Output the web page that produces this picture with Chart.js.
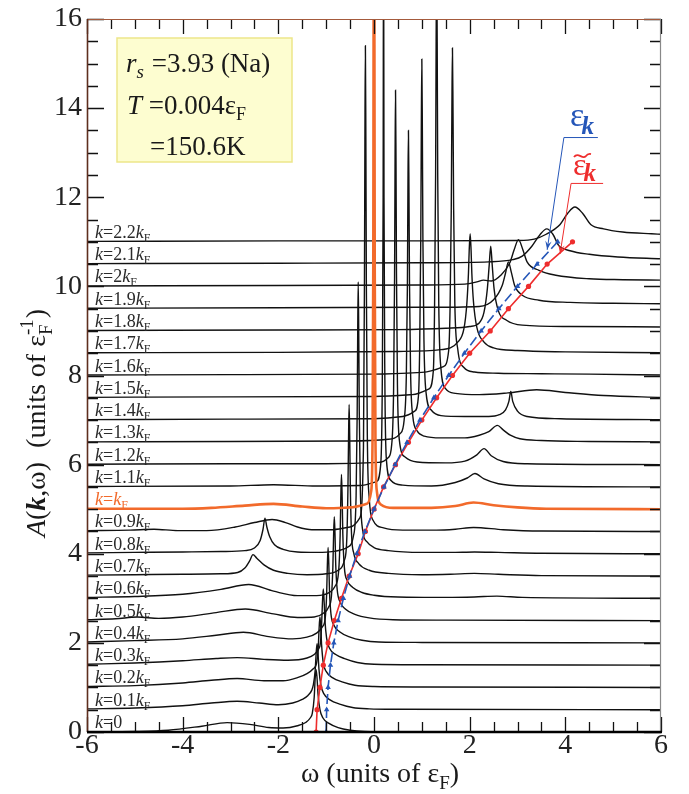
<!DOCTYPE html>
<html>
<head>
<meta charset="utf-8">
<script src="https://cdn.jsdelivr.net/npm/chart.js@4.4.1/dist/chart.umd.min.js"></script>
<style>
  html, body { margin: 0; padding: 0; background: #ffffff; }
  canvas { display: block; }
</style>
</head>
<body>
<canvas id="c" width="689" height="794"></canvas>
<script>
// Momentum values k/kF, one spectrum per value, stacked bottom to top
const kValues = ['0', '0.1', '0.2', '0.3', '0.4', '0.5', '0.6', '0.7', '0.8', '0.9', '1',
                 '1.1', '1.2', '1.3', '1.4', '1.5', '1.6', '1.7', '1.8', '1.9', '2', '2.1', '2.2'];
const waterfallStep = 0.5;           // vertical shift between successive spectra
const fermiIndex = 10;               // k = kF

// Spectral functions A(k,w): [w, A] pairs (w and A in units of eF and 1/eF)
const A_k00 = [[-6,0],[-5,0.01],[-4.3,0.04],[-3.6,0.13],[-3.07,0.21],[-2.6,0.17],[-2.2,0.1],[-1.9,0.09],[-1.6,0.14],[-1.42,0.22],[-1.33,0.32],[-1.29,0.42],[-1.25,0.78],[-1.23,1.2],[-1.21,1.4],[-1.19,1.2],[-1.17,0.85],[-1.13,0.5],[-1.07,0.32],[-0.95,0.2],[-0.75,0.1],[-0.5,0.04],[-0.2,0.01],[0.5,0],[6,0]];
const A_k01 = [[-6,0.02],[-5,0.04],[-4,0.09],[-3.4,0.15],[-2.86,0.19],[-2.4,0.15],[-2,0.11],[-1.7,0.15],[-1.5,0.23],[-1.38,0.32],[-1.3,0.44],[-1.27,0.55],[-1.23,0.88],[-1.21,1.25],[-1.19,1.48],[-1.17,1.25],[-1.15,0.9],[-1.11,0.55],[-1.05,0.36],[-0.92,0.22],[-0.7,0.12],[-0.45,0.05],[-0.1,0.02],[0.5,0.01],[6,0]];
const A_k02 = [[-6,0.02],[-5,0.04],[-4,0.1],[-3.4,0.16],[-2.86,0.2],[-2.3,0.15],[-1.9,0.15],[-1.6,0.22],[-1.4,0.31],[-1.27,0.42],[-1.2,0.55],[-1.165,0.9],[-1.148,1.32],[-1.13,1.58],[-1.112,1.32],[-1.095,0.95],[-1.06,0.55],[-1,0.36],[-0.87,0.22],[-0.65,0.12],[-0.4,0.05],[0,0.02],[1,0.01],[6,0]];
const A_k03 = [[-6,0.02],[-5,0.05],[-4,0.1],[-3.3,0.15],[-2.86,0.17],[-2.3,0.13],[-1.8,0.11],[-1.4,0.16],[-1.25,0.24],[-1.16,0.36],[-1.12,0.5],[-1.095,0.92],[-1.078,1.4],[-1.06,1.71],[-1.042,1.42],[-1.025,1.0],[-0.99,0.6],[-0.93,0.38],[-0.8,0.24],[-0.6,0.14],[-0.35,0.06],[0,0.02],[1,0.01],[6,0]];
const A_k04 = [[-6,0.02],[-5,0.05],[-4,0.09],[-3.3,0.17],[-2.73,0.24],[-2.2,0.14],[-1.7,0.09],[-1.4,0.13],[-1.2,0.22],[-1.08,0.36],[-1.02,0.55],[-0.99,1.1],[-0.975,1.75],[-0.96,2.14],[-0.945,1.78],[-0.93,1.15],[-0.9,0.65],[-0.84,0.4],[-0.72,0.25],[-0.5,0.13],[-0.25,0.06],[0.1,0.02],[1,0.01],[6,0]];
const A_k05 = [[-6,0.02],[-5.4,0.04],[-4.95,0.08],[-4.5,0.05],[-4,0.08],[-3.3,0.18],[-2.69,0.26],[-2.1,0.15],[-1.6,0.07],[-1.25,0.08],[-1.05,0.17],[-0.95,0.3],[-0.89,0.55],[-0.86,1.2],[-0.845,1.9],[-0.83,2.33],[-0.815,1.93],[-0.8,1.25],[-0.77,0.7],[-0.71,0.42],[-0.6,0.26],[-0.4,0.14],[-0.1,0.06],[0.4,0.02],[1.5,0.01],[6,0]];
const A_k06 = [[-6,0.02],[-5,0.04],[-4,0.09],[-3.2,0.2],[-2.62,0.31],[-2.1,0.16],[-1.6,0.06],[-1.2,0.06],[-0.95,0.12],[-0.82,0.26],[-0.74,0.6],[-0.708,1.4],[-0.694,2.25],[-0.68,2.78],[-0.666,2.28],[-0.652,1.45],[-0.62,0.7],[-0.56,0.4],[-0.45,0.25],[-0.25,0.13],[0,0.07],[0.5,0.03],[1.5,0.02],[2.1,0.03],[2.57,0.05],[3.1,0.02],[6,0]];
const A_k07 = [[-6,0.02],[-5,0.03],[-4,0.04],[-3.2,0.05],[-2.85,0.08],[-2.7,0.18],[-2.6,0.34],[-2.53,0.48],[-2.45,0.4],[-2.3,0.25],[-2.1,0.13],[-1.8,0.06],[-1.4,0.03],[-1,0.05],[-0.75,0.13],[-0.62,0.35],[-0.57,0.8],[-0.545,1.95],[-0.532,3.1],[-0.52,3.85],[-0.508,3.15],[-0.495,2.0],[-0.47,0.95],[-0.42,0.5],[-0.32,0.28],[-0.1,0.13],[0.3,0.06],[1,0.03],[1.6,0.04],[2.1,0.06],[2.6,0.04],[3.5,0.01],[6,0]];
const A_k08 = [[-6,0.02],[-5,0.03],[-4,0.04],[-3.2,0.05],[-2.7,0.07],[-2.5,0.13],[-2.38,0.3],[-2.32,0.55],[-2.28,0.8],[-2.24,0.6],[-2.18,0.38],[-2.08,0.2],[-1.9,0.1],[-1.6,0.04],[-1.2,0.03],[-0.8,0.06],[-0.55,0.15],[-0.43,0.4],[-0.374,1.3],[-0.352,3.1],[-0.341,4.9],[-0.33,6.1],[-0.319,4.95],[-0.308,3.2],[-0.286,1.45],[-0.24,0.55],[-0.15,0.27],[0,0.14],[0.3,0.07],[1,0.03],[1.6,0.03],[2.1,0.04],[2.6,0.03],[3.5,0.01],[6,0]];
const A_k09 = [[-6,0.02],[-5.1,0.03],[-4.6,0.05],[-4.1,0.02],[-3.5,0.02],[-2.9,0.1],[-2.5,0.2],[-2.13,0.27],[-1.85,0.2],[-1.6,0.1],[-1.3,0.04],[-0.9,0.04],[-0.5,0.1],[-0.3,0.3],[-0.22,1.9],[-0.2,5.5],[-0.19,8.8],[-0.18,10.9],[-0.17,8.8],[-0.16,5.6],[-0.14,2.2],[-0.1,0.75],[-0.02,0.25],[0.2,0.08],[0.6,0.03],[1.3,0.03],[1.7,0.05],[2.08,0.09],[2.7,0.04],[3.5,0.01],[6,0]];
const A_k10 = [[-6,0.01],[-4,0.01],[-3.4,0.03],[-2.7,0.08],[-2.1,0.12],[-1.5,0.06],[-1,0.02],[-0.5,0.04],[-0.15,0.12],[-0.06,0.4],[-0.03,1.6],[-0.015,5.5],[0,16],[0.015,5.5],[0.03,1.6],[0.06,0.4],[0.15,0.1],[0.4,0.03],[1.2,0.03],[1.7,0.07],[2.08,0.15],[2.5,0.09],[3,0.04],[3.6,0.01],[6,0]];
const A_k11 = [[-6,0.01],[-3,0.02],[-2.1,0.05],[-1.2,0.02],[-0.3,0.03],[0.05,0.12],[0.14,0.5],[0.173,2.3],[0.191,6.5],[0.2,13],[0.209,6.5],[0.227,2.4],[0.26,0.6],[0.35,0.15],[0.6,0.04],[1.2,0.02],[1.7,0.1],[1.95,0.2],[2.11,0.3],[2.3,0.18],[2.6,0.07],[3.2,0.02],[6,0]];
const A_k12 = [[-6,0.01],[-3,0.02],[-1,0.02],[0.1,0.05],[0.3,0.16],[0.37,0.45],[0.41,1.7],[0.43,4.2],[0.44,6.7],[0.45,8.4],[0.46,6.8],[0.47,4.3],[0.49,1.8],[0.53,0.55],[0.65,0.17],[0.9,0.06],[1.5,0.04],[1.9,0.08],[2.15,0.22],[2.3,0.36],[2.45,0.2],[2.7,0.07],[3.2,0.02],[6,0]];
const A_k13 = [[-6,0.01],[-3,0.02],[-0.5,0.03],[0.3,0.07],[0.55,0.2],[0.63,0.5],[0.676,1.5],[0.698,3.5],[0.709,5.6],[0.72,7.0],[0.731,5.6],[0.742,3.6],[0.764,1.6],[0.81,0.6],[0.9,0.26],[1.05,0.14],[1.4,0.1],[1.9,0.1],[2.2,0.16],[2.4,0.24],[2.58,0.38],[2.7,0.28],[2.85,0.16],[3.05,0.08],[3.5,0.04],[4.5,0.02],[6,0.01]];
const A_k14 = [[-6,0.01],[-3,0.02],[0,0.03],[0.6,0.08],[0.85,0.2],[0.93,0.55],[0.956,1.7],[0.978,4.1],[0.989,6.5],[1.0,8.1],[1.011,6.5],[1.022,4.1],[1.044,1.8],[1.09,0.6],[1.2,0.22],[1.4,0.1],[1.9,0.08],[2.4,0.08],[2.62,0.12],[2.75,0.23],[2.82,0.42],[2.86,0.64],[2.9,0.42],[3,0.2],[3.2,0.08],[3.9,0.03],[6,0.01]];
const A_k15 = [[-6,0.01],[-3,0.02],[0,0.03],[0.8,0.07],[1.15,0.2],[1.24,0.6],[1.266,2.0],[1.288,5.0],[1.299,8.0],[1.31,10],[1.321,8.0],[1.332,5.0],[1.354,2.1],[1.4,0.65],[1.5,0.2],[1.7,0.1],[2.2,0.07],[2.8,0.11],[3.4,0.18],[4,0.12],[4.8,0.05],[6,0.01]];
const A_k16 = [[-6,0.01],[-3,0.02],[0,0.03],[1,0.07],[1.45,0.2],[1.56,0.55],[1.59,1.5],[1.615,3.7],[1.628,5.9],[1.64,7.35],[1.652,5.9],[1.665,3.75],[1.69,1.6],[1.75,0.6],[1.88,0.18],[2.1,0.08],[2.6,0.05],[3.5,0.04],[4.5,0.03],[6,0.01]];
const A_k17 = [[-6,0.01],[-2,0.02],[0.5,0.04],[1.4,0.08],[1.75,0.25],[1.88,0.55],[1.94,1.1],[1.975,1.8],[1.99,2.3],[2.01,2.68],[2.03,2.3],[2.045,1.8],[2.08,1.15],[2.15,0.58],[2.3,0.25],[2.5,0.12],[3,0.06],[4,0.03],[6,0.01]];
const A_k18 = [[-6,0.01],[-2,0.02],[0.5,0.03],[1.5,0.06],[2,0.1],[2.2,0.18],[2.3,0.42],[2.37,0.95],[2.41,1.5],[2.44,1.9],[2.47,1.5],[2.51,0.95],[2.6,0.45],[2.77,0.24],[3.1,0.13],[4.1,0.1],[6,0.09]];
const A_k19 = [[-6,0.01],[-2,0.02],[1,0.03],[2.2,0.05],[2.5,0.2],[2.68,0.52],[2.75,0.8],[2.81,1.05],[2.87,0.82],[2.94,0.52],[3.1,0.3],[3.45,0.19],[4.1,0.14],[5,0.12],[6,0.11]];
const A_k20 = [[-6,0.01],[-2,0.02],[1,0.03],[1.9,0.05],[2.15,0.1],[2.29,0.14],[2.45,0.12],[2.65,0.25],[2.84,0.53],[2.93,0.82],[3.02,1.05],[3.11,0.83],[3.2,0.55],[3.45,0.36],[3.8,0.25],[4.5,0.17],[5.2,0.15],[6,0.14]];
const A_k21 = [[-6,0.01],[-2,0.02],[1,0.03],[2.4,0.05],[2.9,0.1],[3.1,0.18],[3.3,0.4],[3.47,0.66],[3.61,0.79],[3.74,0.67],[3.86,0.42],[4.1,0.3],[4.5,0.22],[5.1,0.16],[6,0.12]];
const A_k22 = [[-6,0.01],[-2,0.02],[1,0.02],[3,0.03],[3.35,0.06],[3.6,0.17],[3.89,0.39],[4.05,0.64],[4.2,0.78],[4.36,0.64],[4.53,0.39],[4.8,0.29],[5.2,0.22],[5.8,0.18],[6,0.17]];

// Bare dispersion e_k = k^2 - 1 and quasiparticle energies (units of eF)
const epsBare    = [-1, -0.99, -0.96, -0.91, -0.84, -0.75, -0.64, -0.51, -0.36, -0.19, 0, 0.21, 0.44, 0.69, 0.96, 1.25, 1.56, 1.89, 2.24, 2.61, 3.0, 3.41, 3.84];
const epsRenorm  = [-1.21, -1.19, -1.13, -1.06, -0.96, -0.83, -0.68, -0.52, -0.33, -0.18, 0, 0.2, 0.45, 0.72, 1.0, 1.31, 1.64, 2.0, 2.43, 2.81, 3.23, 3.62, 4.15];

// Axis ticks
const xTickValues = [-6, -4, -2, 0, 2, 4, 6];
const yTickValues = [0, 2, 4, 6, 8, 10, 12, 14, 16];
const minorStep = 0.5;

const spectra = [A_k00, A_k01, A_k02, A_k03, A_k04, A_k05, A_k06, A_k07, A_k08, A_k09, A_k10,
                 A_k11, A_k12, A_k13, A_k14, A_k15, A_k16, A_k17, A_k18, A_k19, A_k20, A_k21, A_k22];

const SERIF = '"Liberation Serif", "DejaVu Serif", serif';
const ORANGE = '#f26a2b';
const RED = '#ee2d2d';
const BLUE = '#2556b8';

const datasets = spectra.map((pts, i) => ({
  data: pts.map(p => ({ x: p[0], y: p[1] + i * waterfallStep })),
  borderColor: i === fermiIndex ? ORANGE : '#111111',
  borderWidth: i === fermiIndex ? 2.6 : 1.4,
  pointRadius: 0,
  cubicInterpolationMode: 'monotone',
  fill: false,
  order: i === fermiIndex ? 2 : 3
}));

datasets.push({
  data: epsRenorm.map((e, i) => ({ x: e, y: i * waterfallStep })),
  borderColor: RED, backgroundColor: RED,
  borderWidth: 1.6, pointRadius: 2.6, pointStyle: 'circle', pointBorderWidth: 0,
  tension: 0, fill: false, order: 1
});
datasets.push({
  data: epsBare.map((e, i) => ({ x: e, y: i * waterfallStep })),
  borderColor: BLUE, backgroundColor: BLUE,
  borderWidth: 1.6, borderDash: [10, 4], pointRadius: 3.2, pointStyle: 'triangle', pointBorderWidth: 0,
  tension: 0, fill: false, order: 0
});

// Draws a sequence of differently styled text runs; a run with `over` starts where the previous one started
function drawRich(ctx, runs, x, y, align) {
  const pos = [];
  let cursor = 0;
  runs.forEach((r, i) => {
    ctx.font = r.font;
    const w = ctx.measureText(r.t).width;
    const start = (r.over && i > 0) ? pos[i - 1].start : cursor + (r.dx || 0);
    pos.push({ start, w });
    cursor = Math.max(cursor, start + w);
  });
  const x0 = align === 'center' ? x - cursor / 2 : x;
  runs.forEach((r, i) => {
    ctx.font = r.font;
    ctx.fillStyle = r.color || '#1a1a1a';
    ctx.fillText(r.t, x0 + pos[i].start, y + (r.dy || 0));
  });
}

function f(style, size) { return `${style} ${size}px ${SERIF}`; }

function arrowHead(ctx, x1, y1, x2, y2, color) {
  const ang = Math.atan2(y2 - y1, x2 - x1);
  const L = 9, W = 3.2;
  ctx.fillStyle = color;
  ctx.beginPath();
  ctx.moveTo(x2, y2);
  ctx.lineTo(x2 - L * Math.cos(ang) + W * Math.sin(ang), y2 - L * Math.sin(ang) - W * Math.cos(ang));
  ctx.lineTo(x2 - 0.6 * L * Math.cos(ang), y2 - 0.6 * L * Math.sin(ang));
  ctx.lineTo(x2 - L * Math.cos(ang) - W * Math.sin(ang), y2 - L * Math.sin(ang) + W * Math.cos(ang));
  ctx.closePath();
  ctx.fill();
}

const decorations = {
  id: 'decorations',
  afterDraw(chart) {
    const ctx = chart.ctx;
    const xs = chart.scales.x, ys = chart.scales.y, ca = chart.chartArea;
    const X = v => xs.getPixelForValue(v), Y = v => ys.getPixelForValue(v);
    ctx.save();

    // inward ticks on all four sides
    ctx.strokeStyle = '#111';
    ctx.lineWidth = 1.3;
    ctx.beginPath();
    for (let v = xs.min; v <= xs.max + 1e-9; v += minorStep) {
      const major = xTickValues.some(t => Math.abs(t - v) < 1e-9);
      const L = major ? 15 : 10;
      const px = Math.round(X(v)) + 0.5;
      ctx.moveTo(px, ca.bottom); ctx.lineTo(px, ca.bottom - L);
      ctx.moveTo(px, ca.top); ctx.lineTo(px, ca.top + L);
    }
    for (let v = ys.min; v <= ys.max + 1e-9; v += minorStep) {
      const major = yTickValues.some(t => Math.abs(t - v) < 1e-9);
      const L = major ? 17 : 11;
      const py = Math.round(Y(v)) + 0.5;
      ctx.moveTo(ca.left, py); ctx.lineTo(ca.left + L, py);
      ctx.moveTo(ca.right, py); ctx.lineTo(ca.right - L, py);
    }
    ctx.stroke();

    // frame
    ctx.lineWidth = 1.2;
    ctx.strokeStyle = '#a45a3c';
    ctx.beginPath(); ctx.moveTo(ca.left, ca.top + 0.5); ctx.lineTo(ca.right, ca.top + 0.5); ctx.stroke();
    ctx.strokeStyle = '#888888';
    ctx.beginPath(); ctx.moveTo(ca.right - 0.5, ca.top); ctx.lineTo(ca.right - 0.5, ca.bottom); ctx.stroke();
    ctx.lineWidth = 1.6;
    ctx.strokeStyle = '#5e2e1e';
    ctx.beginPath(); ctx.moveTo(ca.left + 0.5, ca.top); ctx.lineTo(ca.left + 0.5, ca.bottom); ctx.stroke();
    ctx.lineWidth = 2.6;
    ctx.strokeStyle = '#000';
    ctx.beginPath(); ctx.moveTo(ca.left, ca.bottom); ctx.lineTo(ca.right + 1, ca.bottom); ctx.stroke();

    // momentum labels above each baseline
    ctx.textBaseline = 'alphabetic';
    kValues.forEach((k, i) => {
      const col = i === fermiIndex ? ORANGE : '#2a2a2a';
      const runs = [{ t: 'k', font: f('italic', 18), color: col }];
      if (k === '0') {
        runs.push({ t: '=0', font: f('normal', 18), color: col });
      } else {
        runs.push({ t: k === '1' ? '=' : '=' + k, font: f('normal', 18), color: col });
        runs.push({ t: 'k', font: f('italic', 18), color: col });
        runs.push({ t: 'F', font: f('normal', 12), color: col, dy: 4 });
      }
      drawRich(ctx, runs, ca.left + 8, Y(i * waterfallStep) - 4, 'left');
    });

    // parameter box
    ctx.fillStyle = '#fdfdd0';
    ctx.strokeStyle = '#ede68a';
    ctx.lineWidth = 1.5;
    ctx.fillRect(117, 38, 175, 124);
    ctx.strokeRect(117, 38, 175, 124);
    drawRich(ctx, [
      { t: 'r', font: f('italic', 27) },
      { t: 's', font: f('italic', 19), dy: 6 },
      { t: ' =3.93 (Na)', font: f('normal', 27), dx: 1 }
    ], 126, 72, 'left');
    drawRich(ctx, [
      { t: 'T', font: f('italic', 27) },
      { t: ' =0.004\u03B5', font: f('normal', 27) },
      { t: 'F', font: f('normal', 18), dy: 6 }
    ], 127, 114, 'left');
    drawRich(ctx, [{ t: '=150.6K', font: f('normal', 27) }], 150, 155, 'left');

    // axis titles
    drawRich(ctx, [
      { t: '\u03C9 (units of \u03B5', font: f('normal', 28) },
      { t: 'F', font: f('normal', 19), dy: 7 },
      { t: ')', font: f('normal', 28) }
    ], 380, 782, 'center');
    ctx.save();
    ctx.translate(45, 423);
    ctx.rotate(-Math.PI / 2);
    drawRich(ctx, [
      { t: 'A', font: f('italic', 28) },
      { t: '(', font: f('normal', 28) },
      { t: 'k', font: f('bold italic', 28) },
      { t: ',\u03C9)  (units of \u03B5', font: f('normal', 28) },
      { t: 'F', font: f('normal', 19), dy: 7 },
      { t: '-1', font: f('normal', 19), dy: -12, over: true },
      { t: ')', font: f('normal', 28), dx: 1 }
    ], 0, 0, 'center');
    ctx.restore();

    // dispersion labels with pointers
    ctx.lineWidth = 1;
    // bare e_k
    ctx.strokeStyle = BLUE;
    ctx.beginPath();
    ctx.moveTo(X(4.68), Y(13.34)); ctx.lineTo(X(3.97), Y(13.34)); ctx.lineTo(X(3.62), Y(10.82));
    ctx.stroke();
    arrowHead(ctx, X(3.97), Y(13.34), X(3.62), Y(10.82), BLUE);
    drawRich(ctx, [
      { t: '\u03B5', font: f('normal', 34), color: BLUE },
      { t: 'k', font: f('bold italic', 25), color: BLUE, dy: 8, dx: -3 }
    ], X(4.10), Y(13.59), 'left');
    // renormalised e_k
    ctx.strokeStyle = RED;
    ctx.beginPath();
    ctx.moveTo(X(4.79), Y(12.31)); ctx.lineTo(X(4.12), Y(12.31)); ctx.lineTo(X(3.89), Y(10.73));
    ctx.stroke();
    arrowHead(ctx, X(4.12), Y(12.31), X(3.89), Y(10.73), RED);
    const ex = X(4.16), ey = Y(12.51);
    drawRich(ctx, [
      { t: '\u03B5', font: f('normal', 32), color: RED },
      { t: 'k', font: f('bold italic', 25), color: RED, dy: 6, dx: -3 }
    ], ex, ey, 'left');
    ctx.strokeStyle = RED;
    ctx.lineWidth = 1.8;
    ctx.beginPath();
    const ty = ey - 19;
    ctx.moveTo(ex + 1, ty + 1.5);
    ctx.bezierCurveTo(ex + 5, ty - 4, ex + 9, ty + 4, ex + 12.5, ty + 1);
    ctx.bezierCurveTo(ex + 14, ty - 1, ex + 16, ty - 2, ex + 18, ty - 1.5);
    ctx.stroke();

    ctx.restore();
  }
};

Chart.defaults.font.family = SERIF;

new Chart(document.getElementById('c'), {
  type: 'line',
  data: { datasets },
  options: {
    responsive: false,
    animation: false,
    devicePixelRatio: 1,
    events: [],
    layout: { padding: { left: 0, top: 16, right: 28, bottom: 0 } },
    plugins: { legend: { display: false }, tooltip: { enabled: false } },
    scales: {
      x: {
        type: 'linear', min: -6, max: 6,
        afterBuildTicks: s => { s.ticks = xTickValues.map(v => ({ value: v })); },
        afterFit: s => { s.height = 62; },
        ticks: { font: { size: 28, family: SERIF, lineHeight: 1 }, color: '#222', padding: 0, maxRotation: 0, autoSkip: false },
        grid: { display: false, drawTicks: false },
        border: { display: false }
      },
      y: {
        type: 'linear', min: 0, max: 16,
        afterBuildTicks: s => { s.ticks = yTickValues.map(v => ({ value: v })); },
        afterFit: s => { s.width = 87; },
        ticks: { font: { size: 28, family: SERIF, lineHeight: 1 }, color: '#222', padding: 5, autoSkip: false },
        grid: { display: false, drawTicks: false },
        border: { display: false }
      }
    }
  },
  plugins: [decorations]
});
</script>
</body>
</html>
